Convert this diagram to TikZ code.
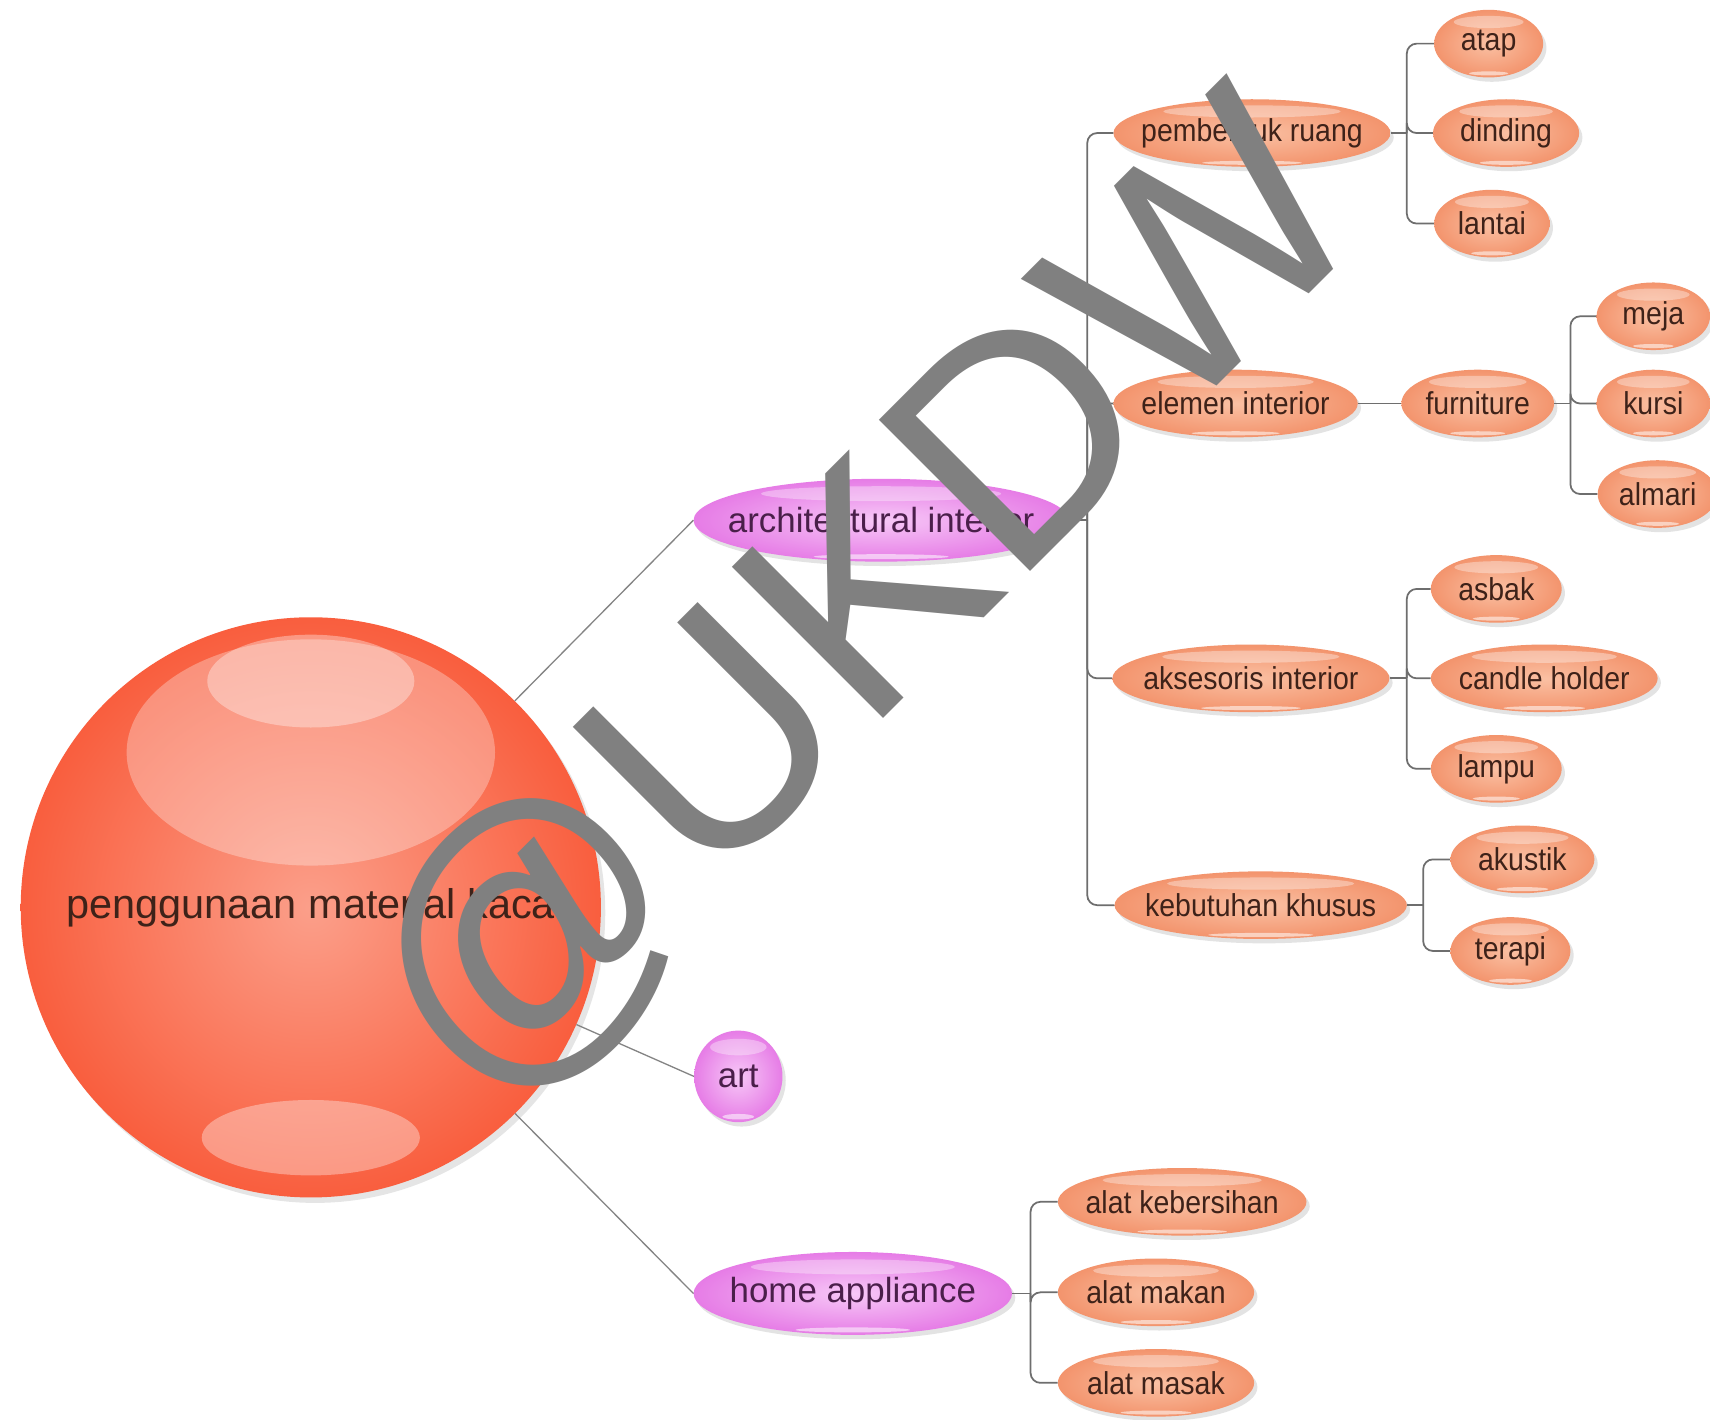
\documentclass[tikz,border=0pt]{standalone}
\usepackage{fontspec}
\setmainfont{Liberation Sans}
\newfontfamily\narrowsf[FakeStretch=0.9]{Liberation Sans}
\usetikzlibrary{shapes.geometric,shadows,calc}
\definecolor{salmonA}{HTML}{FAC0A3}
\definecolor{salmonB}{HTML}{F3946D}
\definecolor{pinkA}{HTML}{F7C8F7}
\definecolor{pinkB}{HTML}{E67CE6}
\definecolor{redA}{HTML}{FB9F8A}
\definecolor{redB}{HTML}{F95E3E}
\definecolor{linec}{HTML}{6E6E6E}
\definecolor{txt}{HTML}{3E2219}
\definecolor{ptxt}{HTML}{4A1F4A}
\definecolor{wm}{HTML}{808080}
\tikzset{
  hl/.style={path picture={
    \fill[white, fill opacity=0.35] let \p1=(path picture bounding box.south west), \p2=(path picture bounding box.north east), \n1={(\x2-\x1)/2}, \n2={(\y2-\y1)/2} in
      ($(path picture bounding box.north)!0.18!(path picture bounding box.south)$) ellipse [x radius=0.64*\n1, y radius=0.18*\n2];
    \fill[white, fill opacity=0.55] let \p1=(path picture bounding box.south west), \p2=(path picture bounding box.north east), \n1={(\x2-\x1)/2}, \n2={(\y2-\y1)/2} in
      ($(path picture bounding box.north)!0.94!(path picture bounding box.south)$) ellipse [x radius=0.36*\n1, y radius=0.06*\n2];
  }},
  mainhl/.style={path picture={
    \fill[white, fill opacity=0.3] let \p1=(path picture bounding box.south west), \p2=(path picture bounding box.north east), \n1={(\x2-\x1)/2} in
      ($(path picture bounding box.north)!0.233!(path picture bounding box.south)$) ellipse [x radius=0.635*\n1, y radius=0.39*\n1];
    \fill[white, fill opacity=0.35] let \p1=(path picture bounding box.south west), \p2=(path picture bounding box.north east), \n1={(\x2-\x1)/2} in
      ($(path picture bounding box.north)!0.11!(path picture bounding box.south)$) ellipse [x radius=0.357*\n1, y radius=0.16*\n1];
    \fill[white, fill opacity=0.35] let \p1=(path picture bounding box.south west), \p2=(path picture bounding box.north east), \n1={(\x2-\x1)/2} in
      ($(path picture bounding box.north)!0.897!(path picture bounding box.south)$) ellipse [x radius=0.376*\n1, y radius=0.13*\n1];
  }},
  zerow/.style={execute at begin node={\hbox to 0pt\bgroup\hss}, execute at end node={\hss\egroup}},
  glossy/.style={ellipse, draw=none, inner sep=0pt, zerow, drop shadow={shadow xshift=3pt, shadow yshift=-4pt, opacity=0.22}, hl},
  sal/.style={glossy, inner color=salmonA, outer color=salmonB, text=txt, font=\narrowsf\fontsize{29}{30}\selectfont, minimum height=62pt},
  pnk/.style={glossy, inner color=pinkA, outer color=pinkB, text=ptxt, font=\fontsize{32}{34}\selectfont, minimum height=76pt},
  conn/.style={draw=linec, line width=1.6pt, rounded corners=9pt},
  thinconn/.style={draw=linec!85, line width=1.2pt},
}
\begin{document}
\begin{tikzpicture}[x=1pt,y=-1pt]
\useasboundingbox[fill=white] (0,0) rectangle (1568,1302);
% root
\node[circle, minimum size=532pt, inner sep=0pt, zerow, inner color=redA, outer color=redB,
      drop shadow={shadow xshift=4pt, shadow yshift=-5pt, opacity=0.2}, mainhl,
      text=txt, font=\fontsize{38}{40}\selectfont] (main) at (285,832) {penggunaan material kaca};
% level 1
\node[pnk, minimum width=344pt] (arch) at (808,477) {architectural interior};
\node[pnk, minimum width=81pt, minimum height=84pt] (art) at (677,987) {art};
\node[pnk, minimum width=292pt] (home) at (782,1186) {home appliance};
% level 2
\node[sal, minimum width=254pt] (pemb) at (1148,122) {pembentuk ruang};
\node[sal, minimum width=224pt] (elem) at (1133,370) {elemen interior};
\node[sal, minimum width=254pt] (akses) at (1147,622) {aksesoris interior};
\node[sal, minimum width=268pt] (keb) at (1156,830) {kebutuhan khusus};
% level 3
\node[sal, minimum width=100pt] (atap) at (1365,40) {atap};
\node[sal, minimum width=134pt] (dinding) at (1381,122) {dinding};
\node[sal, minimum width=106pt] (lantai) at (1368,205) {lantai};
\node[sal, minimum width=140pt] (furn) at (1355,370) {furniture};
\node[sal, minimum width=104pt] (meja) at (1516,290) {meja};
\node[sal, minimum width=104pt] (kursi) at (1516,370) {kursi};
\node[sal, minimum width=110pt] (almari) at (1520,453) {almari};
\node[sal, minimum width=120pt] (asbak) at (1372,540) {asbak};
\node[sal, minimum width=208pt] (candle) at (1416,622) {candle holder};
\node[sal, minimum width=120pt] (lampu) at (1372,705) {lampu};
\node[sal, minimum width=132pt] (akustik) at (1396,788) {akustik};
\node[sal, minimum width=110pt] (terapi) at (1385,872) {terapi};
\node[sal, minimum width=228pt] (kebers) at (1084,1102) {alat kebersihan};
\node[sal, minimum width=180pt] (makan) at (1060,1185) {alat makan};
\node[sal, minimum width=180pt] (masak) at (1060,1268) {alat masak};
% connectors from root
\draw[thinconn] (main) -- (arch.west);
\draw[thinconn] (main) -- (art.west);
\draw[thinconn] (main) -- (home.west);
% bus coordinates
\coordinate (b1) at (997,477);
\coordinate (b2) at (1290,122);
\coordinate (b3) at (1440,370);
\coordinate (b4) at (1290,622);
\coordinate (b5) at (1305,830);
\coordinate (b6) at (945,1186);
\draw[conn] (arch.east) -- (b1);
\foreach \c in {pemb,elem,akses,keb} \draw[conn] (b1) |- (\c.west);
\draw[conn] (pemb.east) -- (b2);
\foreach \c in {atap,dinding,lantai} \draw[conn] (b2) |- (\c.west);
\draw[conn] (elem.east) -- (furn.west);
\draw[conn] (furn.east) -- (b3);
\foreach \c in {meja,kursi,almari} \draw[conn] (b3) |- (\c.west);
\draw[conn] (akses.east) -- (b4);
\foreach \c in {asbak,candle,lampu} \draw[conn] (b4) |- (\c.west);
\draw[conn] (keb.east) -- (b5);
\foreach \c in {akustik,terapi} \draw[conn] (b5) |- (\c.west);
\draw[conn] (home.east) -- (b6);
\foreach \c in {kebers,makan,masak} \draw[conn] (b6) |- (\c.west);
% watermark
\node[rotate=45, text=wm, inner sep=0pt, font=\fontsize{285}{285}\selectfont] (wmark) at (795,556) {@UKDW};
\end{tikzpicture}
\end{document}
